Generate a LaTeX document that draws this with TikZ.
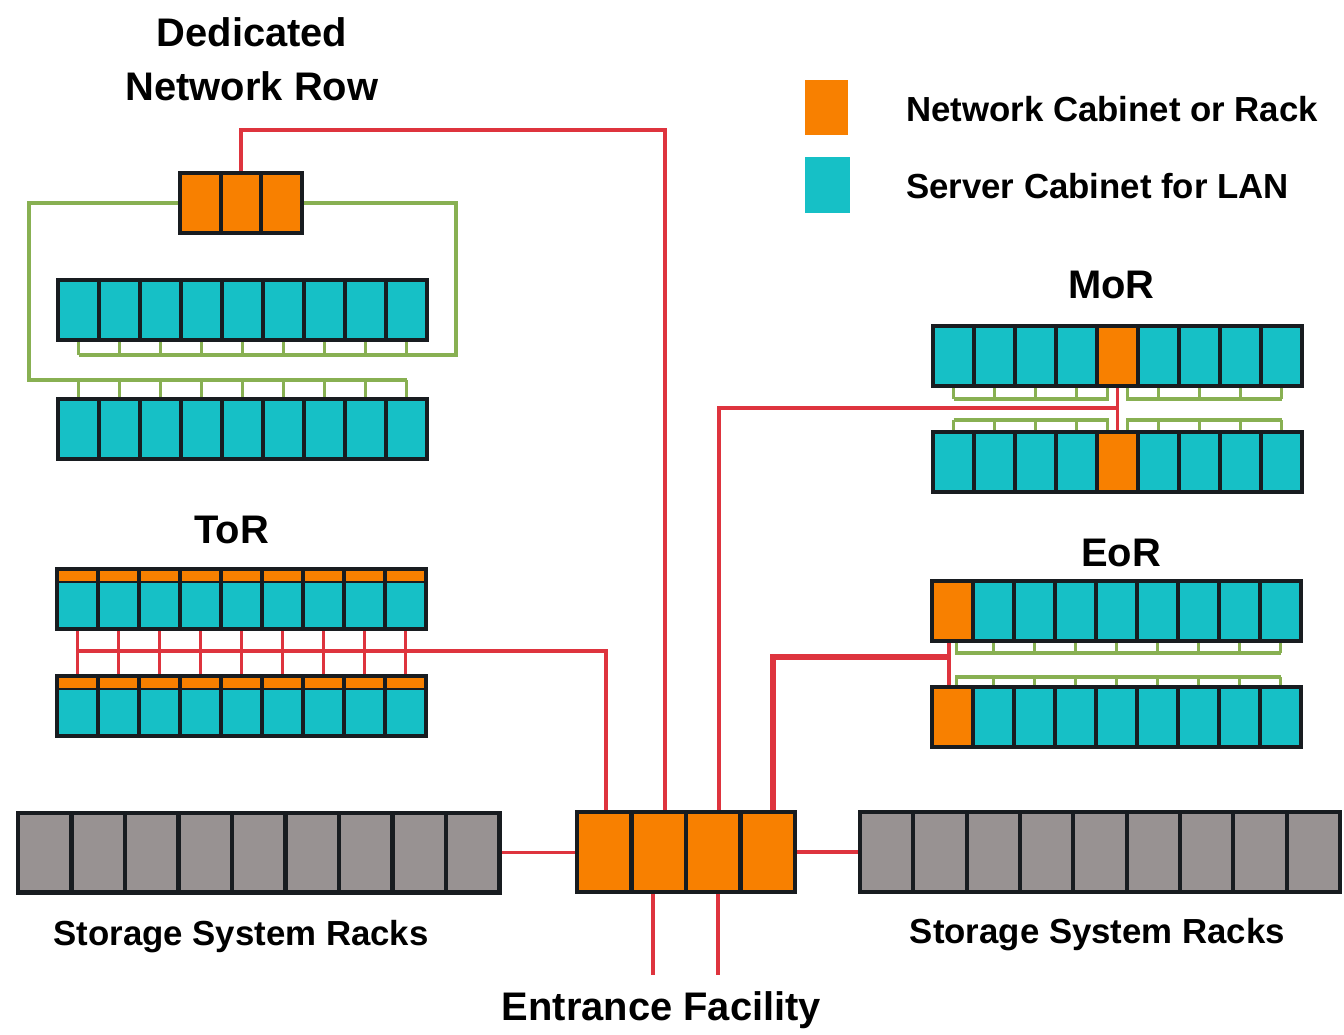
\documentclass[tikz,border=0pt]{standalone}
\usepackage{fontspec}
\setmainfont{Liberation Sans}
\definecolor{netorange}{RGB}{248,128,0}
\definecolor{srvcyan}{RGB}{22,192,198}
\definecolor{stogray}{RGB}{152,146,146}
\definecolor{linkred}{RGB}{222,52,62}
\definecolor{linkgreen}{RGB}{136,176,82}
\definecolor{edgedark}{RGB}{24,28,32}

\begin{document}
\begin{tikzpicture}[x=0.02cm, y=-0.02cm]
	\tikzset{
	    cell/.style= {draw=edgedark, line width=2.3pt, inner sep=0pt, minimum width=0.82cm, minimum height=1.2cm},
	    srv/.style= {cell, fill=srvcyan},
	    net/.style= {cell, fill=netorange},
	    tor/.style= {srv, path picture={
	        \fill[netorange] (path picture bounding box.north west) rectangle ([yshift=-0.24cm]path picture bounding box.north east);
	        \draw[edgedark, line width=1.1pt] ([yshift=-0.26cm]path picture bounding box.north west) -- ([yshift=-0.26cm]path picture bounding box.north east);}},
	    sto/.style= {cell, fill=stogray, minimum width=1.07cm, minimum height=1.6cm},
	    core/.style= {net, minimum width=1.09cm, minimum height=1.6cm},
	    rlink/.style= {draw=linkred, line width=2.2pt},
	    glink/.style= {draw=linkgreen, line width=1.8pt},
	    title/.style= {font=\bfseries\fontsize{22.7}{27}\selectfont, anchor=base},
	    txt/.style= {font=\bfseries\fontsize{19.8}{24}\selectfont, anchor=base},
	}
	\fill[white] (0,0) rectangle (1344,1031);
	
	% dedicated network row
	\node[title] (dtit1) at (252,46) {Dedicated};
	\node[title] (dtit2) at (252,100) {Network Row};
	\foreach \i in {1,2,3}
	    \node[net, minimum width=0.814cm] (dn\i) at ({159.65+40.7*\i},203) {};
	\foreach \i in {1,...,9} {
	    \node[srv] (da\i) at ({37.5+41*\i},310) {};
	    \node[srv] (db\i) at ({37.5+41*\i},429) {};
	}
	
	% legend
	\node[fill=netorange, minimum width=0.86cm, minimum height=1.1cm] (lgn) at (826.5,107.5) {};
	\node[fill=srvcyan, minimum width=0.9cm, minimum height=1.12cm] (lgs) at (827,185) {};
	\node[txt, anchor=base west] (lgnt) at (900,121) {Network Cabinet or Rack};
	\node[txt, anchor=base west] (lgst) at (900,198) {Server Cabinet for LAN};
	
	% ToR, MoR, EoR rows
	\node[title] (ttit) at (231.5,543) {ToR};
	\node[title] (mtit) at (1111.5,298) {MoR};
	\node[title] (etit) at (1121,566) {EoR};
	\foreach \i in {1,...,9} {
	    \node[tor] (ta\i) at ({36.5+41*\i},599) {};
	    \node[tor] (tb\i) at ({36.5+41*\i},706) {};
	}
	\foreach \i/\s in {1/srv,2/srv,3/srv,4/srv,5/net,6/srv,7/srv,8/srv,9/srv} {
	    \node[\s] (ma\i) at ({912.5+41*\i},356) {};
	    \node[\s] (mb\i) at ({912.5+41*\i},462) {};
	}
	\foreach \i/\s in {1/net,2/srv,3/srv,4/srv,5/srv,6/srv,7/srv,8/srv,9/srv} {
	    \node[\s] (ea\i) at ({911.5+41*\i},611) {};
	    \node[\s] (eb\i) at ({911.5+41*\i},717) {};
	}
	
	% storage and core
	\foreach \i in {1,...,9} {
	    \node[sto] (sl\i) at ({-8.75+53.5*\i},852.5) {};
	    \node[sto] (sr\i) at ({833.33+53.33*\i},852) {};
	}
	\foreach \i in {1,...,4}
	    \node[core] (cs\i) at ({549.75+54.5*\i},852) {};
	\node[txt] (slt) at (241,945) {Storage System Racks};
	\node[txt] (srt) at (1097.5,943) {Storage System Racks};
	\node[title] (eft) at (661.5,1020) {Entrance Facility};
	
	% green links
	\coordinate (gd1) at (29,380);
	\coordinate (gd2) at (456,355);
	\draw[glink] (dn1.west) -| (gd1) -- (db9.north |- gd1);
	\draw[glink] (dn3.east) -| (gd2) -- (da1.south |- gd2);
	\foreach \i in {1,...,9} {
	    \draw[glink] (db\i.north) -- (db\i.north |- gd1);
	    \draw[glink] (da\i.south) -- (da\i.south |- gd2);
	}
	
	\coordinate (gm1) at (0,399);
	\coordinate (gm2) at (0,420);
	\coordinate (mal) at ([xshift=-0.2cm]ma5.south);
	\coordinate (mar) at ([xshift=0.2cm]ma5.south);
	\coordinate (mbl) at ([xshift=-0.2cm]mb5.north);
	\coordinate (mbr) at ([xshift=0.2cm]mb5.north);
	\draw[glink] (ma1.south |- gm1) -- (mal |- gm1) -- (mal);
	\draw[glink] (mar) -- (mar |- gm1) -- (ma9.south |- gm1);
	\draw[glink] (mb1.north |- gm2) -- (mbl |- gm2) -- (mbl);
	\draw[glink] (mbr) -- (mbr |- gm2) -- (mb9.north |- gm2);
	\foreach \i in {1,2,3,4,6,7,8,9} {
	    \draw[glink] (ma\i.south) -- (ma\i.south |- gm1);
	    \draw[glink] (mb\i.north) -- (mb\i.north |- gm2);
	}
	
	\coordinate (ge1) at (0,653);
	\coordinate (ge2) at (0,677);
	\coordinate (eag) at ([xshift=0.08cm]ea1.south);
	\coordinate (ebg) at ([xshift=0.08cm]eb1.north);
	\draw[glink] (eag) -- (eag |- ge1) -- (ea9.south |- ge1);
	\draw[glink] (ebg) -- (ebg |- ge2) -- (eb9.north |- ge2);
	\foreach \i in {2,...,9} {
	    \draw[glink] (ea\i.south) -- (ea\i.south |- ge1);
	    \draw[glink] (eb\i.north) -- (eb\i.north |- ge2);
	}
	
	% red links
	\coordinate (up1) at (665,130);
	\coordinate (up2) at (606,651);
	\coordinate (up3) at (719,408);
	\coordinate (up4) at (773,657);
	\coordinate (ear) at ([xshift=-0.07cm]ea1.south);
	\coordinate (ebr) at ([xshift=-0.07cm]eb1.north);
	\draw[rlink] (dn2.north) |- (up1) -- (up1 |- cs1.north);
	\foreach \i in {1,...,9}
	    \draw[rlink] (ta\i.south) -- (tb\i.north);
	\draw[rlink] (ta1.south |- up2) -- (up2) -- (up2 |- cs1.north);
	\draw[rlink] (ma5.south) -- (mb5.north);
	\draw[rlink] (ma5.south |- up3) -- (up3) -- (up3 |- cs1.north);
	\draw[rlink] (ear) -- (ebr);
	\draw[rlink, line width=3pt] (ear |- up4) -- (up4) -- (up4 |- cs1.north);
	\draw[rlink] (sl9.east) -- (sl9.east -| cs1.west);
	\draw[rlink] (cs4.east) -- (sr1.west);
	\coordinate (ef1) at (653,975);
	\coordinate (ef2) at (718,975);
	\draw[rlink] (ef1 |- cs1.south) -- (ef1);
	\draw[rlink] (ef2 |- cs1.south) -- (ef2);
\end{tikzpicture}
\end{document}
